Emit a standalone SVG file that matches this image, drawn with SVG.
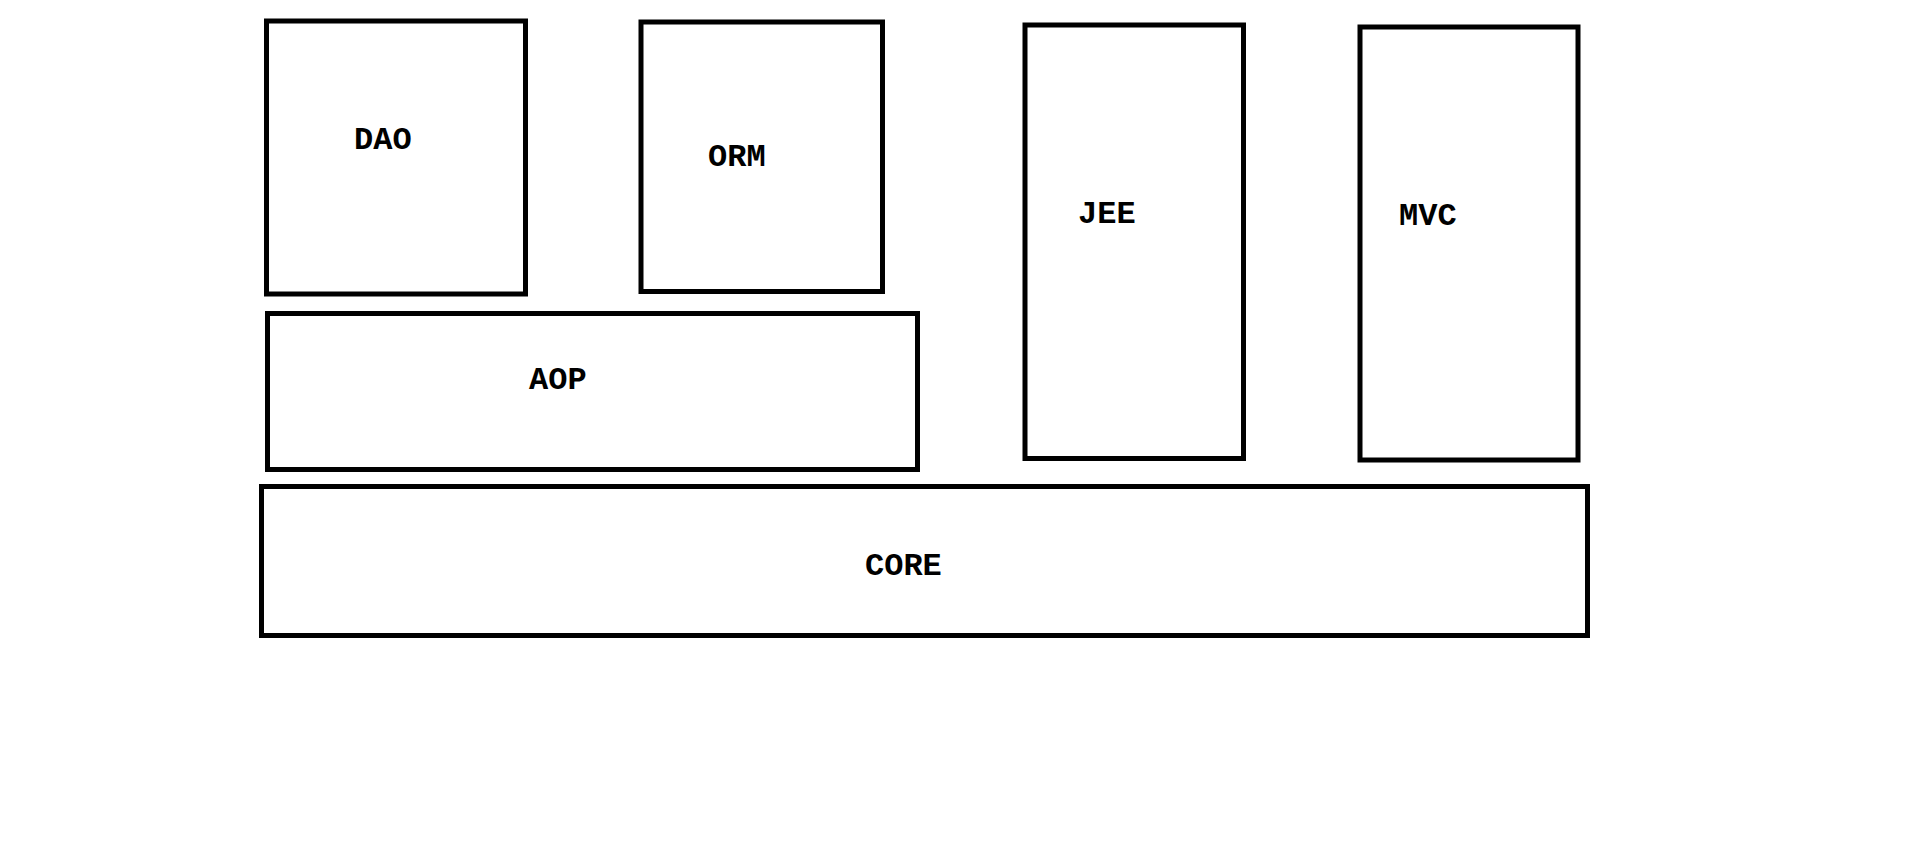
<svg xmlns="http://www.w3.org/2000/svg" width="1914" height="867" viewBox="0 0 1914 867">
<style>
.box{fill:#fff;stroke:#000;stroke-width:5}
.lbl{font-family:"Liberation Mono","Courier New",monospace;font-weight:bold;font-size:32px;fill:#000}
</style>
<rect width="1914" height="867" fill="#fff"/>
<g id="connectors"></g>
<g id="dao"><rect class="box" x="266.5" y="21" width="259" height="273"/><text class="lbl" x="354" y="149">DAO</text></g>
<g id="orm"><rect class="box" x="641" y="22" width="241.5" height="269.5"/><text class="lbl" x="708" y="166">ORM</text></g>
<g id="jee"><rect class="box" x="1025" y="25" width="218.5" height="433.5"/><text class="lbl" x="1078" y="223">JEE</text></g>
<g id="mvc"><rect class="box" x="1360" y="27" width="218" height="433"/><text class="lbl" x="1399" y="225">MVC</text></g>
<g id="aop"><rect class="box" x="267.5" y="313.5" width="650" height="156"/><text class="lbl" x="529" y="389">AOP</text></g>
<g id="core"><rect class="box" x="261.5" y="486.5" width="1326" height="149"/><text class="lbl" x="865" y="575">CORE</text></g>
</svg>
